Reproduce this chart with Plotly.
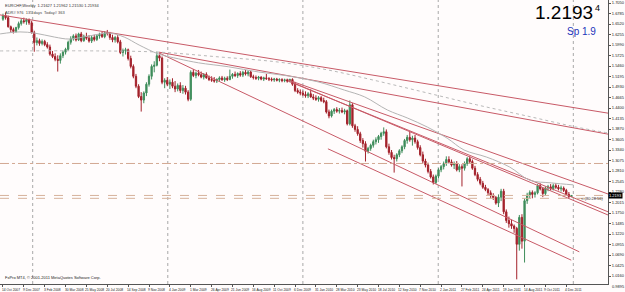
import plotly.graph_objects as go

# ---------------- data (EURCHF weekly) ----------------
opens = [
 1.664, 1.673, 1.668, 1.645, 1.638, 1.633, 1.643, 1.653, 1.660, 1.658,
 1.663, 1.655, 1.630, 1.605, 1.610, 1.603, 1.608, 1.600, 1.594, 1.576,
 1.570, 1.563, 1.560, 1.572, 1.581, 1.588, 1.606, 1.615, 1.622, 1.612,
 1.627, 1.610, 1.621, 1.616, 1.609, 1.618, 1.613, 1.622, 1.626, 1.620,
 1.630, 1.628, 1.618, 1.612, 1.618, 1.607, 1.580, 1.585, 1.587, 1.565,
 1.545, 1.520, 1.495, 1.469, 1.460, 1.478, 1.500, 1.520, 1.545, 1.548,
 1.572, 1.566, 1.505, 1.510, 1.500, 1.505, 1.495, 1.488, 1.497, 1.484,
 1.490, 1.480, 1.462, 1.530, 1.522, 1.528, 1.524, 1.518, 1.525, 1.516,
 1.512, 1.510, 1.508, 1.512, 1.516, 1.511, 1.515, 1.512, 1.520, 1.525,
 1.522, 1.527, 1.523, 1.530, 1.526, 1.531, 1.519, 1.517, 1.515, 1.518,
 1.513, 1.516, 1.514, 1.513, 1.511, 1.513, 1.510, 1.512, 1.509, 1.511,
 1.508, 1.512, 1.500, 1.484, 1.480, 1.478, 1.474, 1.471, 1.476, 1.468,
 1.465, 1.462, 1.466, 1.459, 1.456, 1.430, 1.420, 1.432, 1.436, 1.432,
 1.434, 1.430, 1.433, 1.400, 1.448, 1.395, 1.386, 1.375, 1.358, 1.350,
 1.331, 1.338, 1.346, 1.355, 1.360, 1.368, 1.376, 1.380, 1.342, 1.328,
 1.315, 1.312, 1.322, 1.332, 1.342, 1.358, 1.366, 1.360, 1.364, 1.355,
 1.340, 1.322, 1.306, 1.296, 1.280, 1.266, 1.252, 1.268, 1.284, 1.292,
 1.300, 1.310, 1.304, 1.296, 1.300, 1.284, 1.292, 1.288, 1.300, 1.312,
 1.305, 1.288, 1.272, 1.260, 1.250, 1.240, 1.234, 1.226, 1.218, 1.214,
 1.200, 1.215, 1.230, 1.178, 1.156, 1.148, 1.142, 1.136, 1.096, 1.164,
 1.104, 1.206, 1.220, 1.227, 1.222, 1.226, 1.244, 1.236, 1.224, 1.238,
 1.241, 1.236, 1.244, 1.240, 1.236, 1.238, 1.232, 1.222, 1.2163,
]
highs = [
 1.678, 1.681, 1.673, 1.648, 1.643, 1.645, 1.658, 1.666, 1.668, 1.666,
 1.666, 1.660, 1.635, 1.618, 1.615, 1.613, 1.612, 1.606, 1.600, 1.584,
 1.578, 1.573, 1.578, 1.585, 1.592, 1.610, 1.621, 1.626, 1.628, 1.630,
 1.632, 1.625, 1.630, 1.624, 1.622, 1.625, 1.626, 1.630, 1.633, 1.634,
 1.637, 1.632, 1.625, 1.622, 1.624, 1.612, 1.590, 1.592, 1.590, 1.572,
 1.550, 1.526, 1.500, 1.480, 1.482, 1.505, 1.525, 1.550, 1.558, 1.582,
 1.578, 1.570, 1.515, 1.518, 1.512, 1.515, 1.508, 1.502, 1.505, 1.498,
 1.496, 1.485, 1.535, 1.538, 1.532, 1.536, 1.532, 1.528, 1.530, 1.522,
 1.520, 1.518, 1.515, 1.520, 1.521, 1.519, 1.520, 1.537, 1.528, 1.532,
 1.530, 1.533, 1.534, 1.536, 1.535, 1.534, 1.524, 1.522, 1.521, 1.520,
 1.519, 1.526, 1.518, 1.517, 1.516, 1.516, 1.515, 1.515, 1.514, 1.514,
 1.514, 1.515, 1.506, 1.490, 1.487, 1.484, 1.482, 1.480, 1.487, 1.475,
 1.472, 1.470, 1.470, 1.466, 1.460, 1.436, 1.436, 1.440, 1.442, 1.440,
 1.441, 1.438, 1.436, 1.459, 1.452, 1.400, 1.394, 1.380, 1.364, 1.356,
 1.342, 1.350, 1.360, 1.366, 1.372, 1.380, 1.391, 1.386, 1.350, 1.334,
 1.322, 1.326, 1.336, 1.346, 1.362, 1.372, 1.381, 1.370, 1.372, 1.360,
 1.346, 1.330, 1.312, 1.302, 1.286, 1.272, 1.272, 1.288, 1.296, 1.305,
 1.318, 1.318, 1.310, 1.305, 1.306, 1.298, 1.298, 1.305, 1.316, 1.318,
 1.310, 1.294, 1.278, 1.266, 1.256, 1.246, 1.238, 1.232, 1.225, 1.218,
 1.222, 1.236, 1.236, 1.184, 1.166, 1.158, 1.146, 1.140, 1.170, 1.172,
 1.212, 1.226, 1.232, 1.232, 1.230, 1.248, 1.250, 1.240, 1.242, 1.246,
 1.248, 1.249, 1.250, 1.246, 1.244, 1.242, 1.236, 1.228, 1.2196,
]
lows = [
 1.660, 1.663, 1.643, 1.630, 1.628, 1.630, 1.638, 1.648, 1.653, 1.650,
 1.650, 1.628, 1.582, 1.598, 1.597, 1.598, 1.596, 1.590, 1.572, 1.566,
 1.558, 1.532, 1.552, 1.566, 1.575, 1.584, 1.600, 1.610, 1.608, 1.609,
 1.606, 1.607, 1.612, 1.605, 1.604, 1.608, 1.609, 1.615, 1.617, 1.616,
 1.623, 1.612, 1.606, 1.605, 1.603, 1.576, 1.570, 1.575, 1.560, 1.540,
 1.515, 1.490, 1.465, 1.431, 1.452, 1.470, 1.494, 1.512, 1.530, 1.545,
 1.558, 1.500, 1.490, 1.495, 1.488, 1.490, 1.480, 1.482, 1.478, 1.476,
 1.474, 1.457, 1.458, 1.518, 1.515, 1.520, 1.515, 1.512, 1.514, 1.508,
 1.506, 1.504, 1.503, 1.507, 1.509, 1.506, 1.508, 1.510, 1.514, 1.518,
 1.516, 1.519, 1.518, 1.522, 1.520, 1.516, 1.512, 1.511, 1.510, 1.510,
 1.508, 1.511, 1.508, 1.507, 1.506, 1.507, 1.505, 1.505, 1.505, 1.504,
 1.505, 1.496, 1.480, 1.476, 1.472, 1.470, 1.466, 1.465, 1.466, 1.460,
 1.458, 1.456, 1.455, 1.452, 1.426, 1.414, 1.416, 1.425, 1.428, 1.426,
 1.427, 1.424, 1.396, 1.396, 1.390, 1.380, 1.370, 1.352, 1.340, 1.305,
 1.325, 1.332, 1.340, 1.348, 1.352, 1.360, 1.370, 1.338, 1.322, 1.310,
 1.277, 1.305, 1.316, 1.326, 1.336, 1.350, 1.355, 1.345, 1.350, 1.335,
 1.318, 1.300, 1.290, 1.275, 1.262, 1.247, 1.248, 1.262, 1.278, 1.285,
 1.294, 1.300, 1.292, 1.286, 1.280, 1.278, 1.242, 1.282, 1.294, 1.300,
 1.284, 1.268, 1.255, 1.245, 1.236, 1.230, 1.220, 1.212, 1.208, 1.196,
 1.190, 1.205, 1.172, 1.150, 1.138, 1.135, 1.125, 1.0075, 1.080, 1.085,
 1.050, 1.198, 1.212, 1.212, 1.214, 1.222, 1.232, 1.215, 1.219, 1.230,
 1.232, 1.232, 1.236, 1.232, 1.229, 1.228, 1.218, 1.212, 1.2153,
]
closes = [
 1.673, 1.668, 1.645, 1.638, 1.633, 1.643, 1.653, 1.660, 1.658, 1.663,
 1.655, 1.630, 1.605, 1.610, 1.603, 1.608, 1.600, 1.594, 1.576, 1.570,
 1.563, 1.560, 1.572, 1.581, 1.588, 1.606, 1.615, 1.622, 1.612, 1.627,
 1.610, 1.621, 1.616, 1.609, 1.618, 1.613, 1.622, 1.626, 1.620, 1.630,
 1.628, 1.618, 1.612, 1.618, 1.607, 1.580, 1.585, 1.587, 1.565, 1.545,
 1.520, 1.495, 1.469, 1.460, 1.478, 1.500, 1.520, 1.545, 1.548, 1.572,
 1.566, 1.505, 1.510, 1.500, 1.505, 1.495, 1.488, 1.497, 1.484, 1.490,
 1.480, 1.462, 1.530, 1.522, 1.528, 1.524, 1.518, 1.525, 1.516, 1.512,
 1.510, 1.508, 1.512, 1.516, 1.511, 1.515, 1.512, 1.520, 1.525, 1.522,
 1.527, 1.523, 1.530, 1.526, 1.531, 1.519, 1.517, 1.515, 1.518, 1.513,
 1.516, 1.514, 1.513, 1.511, 1.513, 1.510, 1.512, 1.509, 1.511, 1.508,
 1.512, 1.500, 1.484, 1.480, 1.478, 1.474, 1.471, 1.476, 1.468, 1.465,
 1.462, 1.466, 1.459, 1.456, 1.430, 1.420, 1.432, 1.436, 1.432, 1.434,
 1.430, 1.433, 1.400, 1.448, 1.395, 1.386, 1.375, 1.358, 1.350, 1.331,
 1.338, 1.346, 1.355, 1.360, 1.368, 1.376, 1.380, 1.342, 1.328, 1.315,
 1.312, 1.322, 1.332, 1.342, 1.358, 1.366, 1.360, 1.364, 1.355, 1.340,
 1.322, 1.306, 1.296, 1.280, 1.266, 1.252, 1.268, 1.284, 1.292, 1.300,
 1.310, 1.304, 1.296, 1.300, 1.284, 1.292, 1.288, 1.300, 1.312, 1.305,
 1.288, 1.272, 1.260, 1.250, 1.240, 1.234, 1.226, 1.218, 1.214, 1.200,
 1.215, 1.230, 1.178, 1.156, 1.148, 1.142, 1.136, 1.096, 1.164, 1.104,
 1.206, 1.220, 1.227, 1.222, 1.226, 1.244, 1.236, 1.224, 1.238, 1.241,
 1.236, 1.244, 1.240, 1.236, 1.238, 1.232, 1.222, 1.2163, 1.2193,
]
assert len(opens) == len(highs) == len(lows) == len(closes)
bars = list(range(len(closes)))

# x-axis date labels (every 8 weekly bars)
date_bars = [0, 8, 16, 24, 32, 40, 48, 56, 64, 72, 80, 88, 96, 104,
             112, 120, 128, 136, 144, 152, 160, 168, 176, 184, 192, 200, 208, 216]
date_labels = ["14 Oct 2007", "9 Dec 2007", "3 Feb 2008", "30 Mar 2008", "25 May 2008",
               "20 Jul 2008", "14 Sep 2008", "9 Nov 2008", "4 Jan 2009", "1 Mar 2009",
               "26 Apr 2009", "21 Jun 2009", "16 Aug 2009", "11 Oct 2009", "6 Dec 2009",
               "31 Jan 2010", "28 Mar 2010", "23 May 2010", "18 Jul 2010", "12 Sep 2010",
               "7 Nov 2010", "2 Jan 2011", "27 Feb 2011", "24 Apr 2011", "19 Jun 2011",
               "14 Aug 2011", "9 Oct 2011", "4 Dec 2011"]

# price axis labels
price_ticks = [1.7050, 1.6785, 1.6520, 1.6255, 1.5990, 1.5725, 1.5460, 1.5195, 1.4930,
               1.4665, 1.4400, 1.4135, 1.3870, 1.3605, 1.3340, 1.3075, 1.2810, 1.2545,
               1.2280, 1.2015, 1.1750, 1.1485, 1.1220, 1.0955, 1.0690, 1.0425, 1.0160]
bottom_tick_label = "0.9895"

# moving average (solid grey)
ma_bars = [-1.1, 6.5, 12.2, 19.8, 25.5, 33.1, 40.8, 46.5, 52.2, 59.8, 67.4, 75.0, 86.5,
           97.9, 109.3, 120.8, 131.0, 138.7, 147.4, 155.0, 162.7, 170.3, 176.8, 185.5,
           194.3, 201.9, 210.3, 218.7]
ma_values = [1.627, 1.632, 1.629, 1.619, 1.614, 1.622, 1.629, 1.619, 1.599, 1.576, 1.564,
             1.554, 1.544, 1.531, 1.521, 1.506, 1.485, 1.468, 1.435, 1.415, 1.392, 1.364,
             1.334, 1.316, 1.291, 1.258, 1.251, 1.246]

# dotted grey curve
dot_bars = [-1.1, 37.0, 59.8, 82.7, 105.5, 124.6, 143.6, 162.7, 181.7, 200.8, 219.8, 232.0]
dot_values = [1.584, 1.584, 1.581, 1.569, 1.556, 1.536, 1.508, 1.478, 1.448, 1.420, 1.392, 1.377]

# trend lines: (start bar, start price, end bar, end price)
trend_x0 = [-1.14, 59.8, 109.3, 109.3, 111.6, 59.8, 124.6]
trend_y0 = [1.675, 1.581, 1.511, 1.508, 1.503, 1.579, 1.337]
trend_x1 = [232.0, 232.0, 232.0, 232.0, 232.0, 221.0, 217.9]
trend_y1 = [1.427, 1.374, 1.223, 1.178, 1.170, 1.077, 1.056]

grid_bars = [11.4, 63.2, 115.0, 166.9, 218.7]
level_price = 1.3000
bid_price = 1.2193
second_level = 1.2120

BULL = "#3f8d5b"
BEAR = "#a3202a"
TREND = "#c85a67"
FONT = "Liberation Sans, Arial, sans-serif"

fig = go.Figure()

for x0, y0, x1, y1 in zip(trend_x0, trend_y0, trend_x1, trend_y1):
    fig.add_trace(go.Scatter(x=[x0, x1], y=[y0, y1], mode="lines",
                             line=dict(color=TREND, width=1), hoverinfo="skip",
                             showlegend=False))

fig.add_trace(go.Scatter(x=dot_bars, y=dot_values, mode="lines",
                         line=dict(color="#b9b9b9", width=1, dash="dot", shape="spline"),
                         showlegend=False, hoverinfo="skip"))
fig.add_trace(go.Scatter(x=ma_bars, y=ma_values, mode="lines",
                         line=dict(color="#b4b4b4", width=1, shape="spline"),
                         showlegend=False, hoverinfo="skip"))

fig.add_trace(go.Candlestick(
    x=bars, open=opens, high=highs, low=lows, close=closes,
    increasing=dict(line=dict(color=BULL, width=1), fillcolor=BULL),
    decreasing=dict(line=dict(color=BEAR, width=1), fillcolor=BEAR),
    whiskerwidth=0, showlegend=False))

shapes = []
for gb in grid_bars:
    shapes.append(dict(type="line", xref="x", yref="paper", x0=gb, x1=gb, y0=0, y1=1,
                       line=dict(color="#a8a8a8", width=1, dash="dot"), layer="below"))
shapes.append(dict(type="line", xref="paper", yref="y", x0=0, x1=1, y0=level_price,
                   y1=level_price, line=dict(color="#d2a892", width=1, dash="dashdot")))
shapes.append(dict(type="line", xref="paper", yref="y", x0=0, x1=1, y0=bid_price,
                   y1=bid_price, line=dict(color="#d6b29c", width=1, dash="dash")))
shapes.append(dict(type="line", xref="paper", yref="y", x0=0, x1=1, y0=second_level,
                   y1=second_level, line=dict(color="#d6b29c", width=1, dash="dash")))

annotations = []
for b, lab in zip(date_bars, date_labels):
    annotations.append(dict(x=b, y=0, xref="x", yref="paper", text=lab, showarrow=False,
                            xanchor="left", yanchor="top", xshift=-3, yshift=-2,
                            font=dict(family=FONT, size=3.3, color="#222")))
annotations += [
    dict(x=0, y=1, xref="paper", yref="paper", xanchor="left", yanchor="top", xshift=3,
         yshift=-1, showarrow=False,
         text="EURCHF,Weekly  1.21627 1.21962 1.21530 1.21934",
         font=dict(family=FONT, size=4, color="#333")),
    dict(x=0, y=1, xref="paper", yref="paper", xanchor="left", yanchor="top", xshift=3,
         yshift=-8, showarrow=False, text="ADR# 976  135 days  Today# 363",
         font=dict(family=FONT, size=4, color="#444")),
    dict(x=0, y=0, xref="paper", yref="paper", xanchor="left", yanchor="bottom", xshift=3,
         yshift=2, showarrow=False,
         text="FxPro MT4, © 2001-2011 MetaQuotes Software Corp.",
         font=dict(family=FONT, size=4, color="#222")),
    dict(x=1, y=1, xref="paper", yref="paper", xanchor="right", yanchor="top", xshift=-13,
         yshift=0, showarrow=False, text="1.2193",
         font=dict(family=FONT, size=19, color="#000")),
    dict(x=1, y=1, xref="paper", yref="paper", xanchor="right", yanchor="top", xshift=-6,
         yshift=-1, showarrow=False, text="4",
         font=dict(family=FONT, size=9, color="#000")),
    dict(x=1, y=1, xref="paper", yref="paper", xanchor="right", yanchor="top", xshift=-10,
         yshift=-24, showarrow=False, text="Sp 1.9",
         font=dict(family=FONT, size=10, color="#2233bb")),
    dict(x=1, y=bid_price, xref="paper", yref="y", xanchor="right", yanchor="top",
         xshift=-2, yshift=1, showarrow=False, text="&lt;-(80:28:56)",
         font=dict(family=FONT, size=4, color="#333")),
    dict(x=1, y=bid_price, xref="paper", yref="y", xanchor="left", yanchor="middle",
         xshift=0, showarrow=False, text=f"{bid_price:.4f}", bgcolor="#000",
         borderpad=0, font=dict(family=FONT, size=4, color="#fff")),
    dict(x=1, y=0, xref="paper", yref="paper", xanchor="left", yanchor="middle",
         xshift=2, yshift=-2, showarrow=False, text=bottom_tick_label,
         font=dict(family=FONT, size=4, color="#222")),
]

fig.update_layout(
    width=625, height=292,
    margin=dict(l=0, r=13, t=0, b=8),
    paper_bgcolor="#fffcfc", plot_bgcolor="#fffcfc",
    showlegend=False, shapes=shapes, annotations=annotations,
    font=dict(family=FONT, size=4, color="#222"),
    xaxis=dict(range=[-1.14, 232.0], showgrid=False, zeroline=False,
               rangeslider=dict(visible=False), tickvals=date_bars,
               showticklabels=False, ticks="outside", ticklen=2, tickcolor="#555",
               showline=True, linecolor="#555", linewidth=1),
    yaxis=dict(range=[0.99581, 1.71257], side="right", showgrid=False, zeroline=False,
               tickvals=price_ticks, tickformat=".4f", ticks="outside", ticklen=2,
               tickcolor="#555", tickfont=dict(family=FONT, size=4, color="#222"),
               showline=True, linecolor="#555", linewidth=1),
)

fig.write_html("out.html")
